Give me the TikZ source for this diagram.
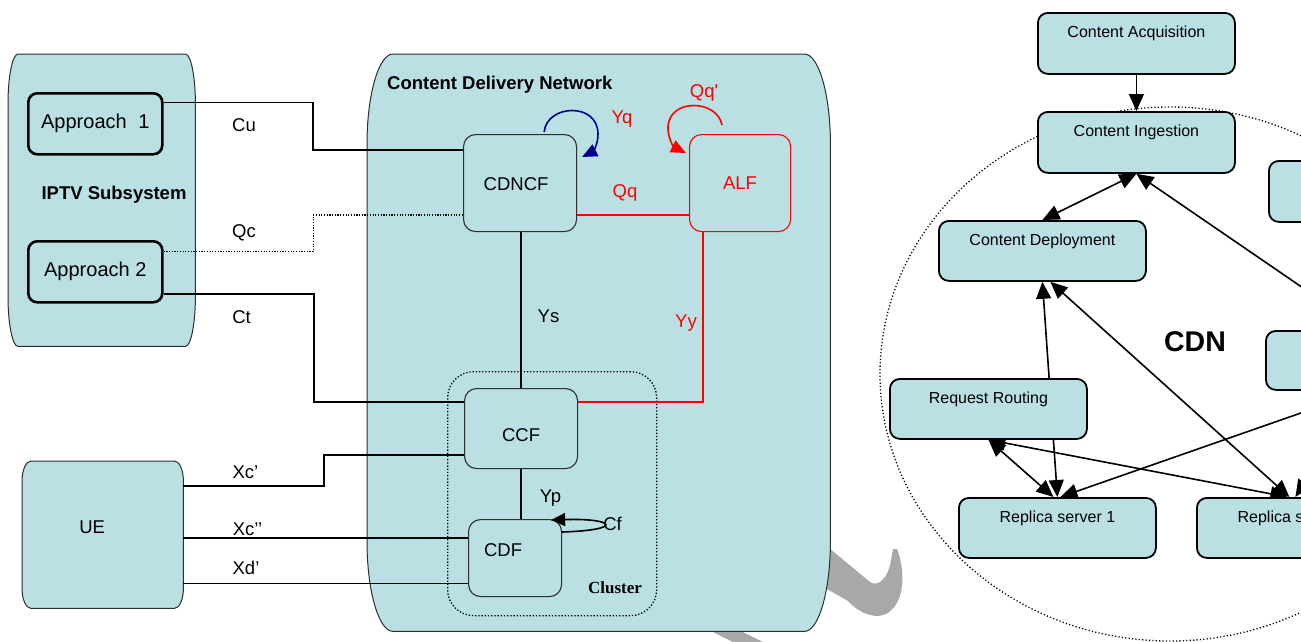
\documentclass[tikz,border=0pt]{standalone}
\usepackage{fontspec}
\setmainfont{Liberation Sans}
\newfontfamily\serifbold{Liberation Serif}
\usetikzlibrary{arrows.meta,calc,shapes.geometric}
\pgfdeclarelayer{watermark}
\pgfdeclarelayer{back}
\pgfsetlayers{watermark,back,main}

\definecolor{cyanfill}{RGB}{186,224,227}
\definecolor{edgegray}{RGB}{45,45,45}
\definecolor{markgray}{RGB}{168,168,168}
\definecolor{loopnavy}{RGB}{0,0,140}

\newcommand\lfont{\fontsize{18.5}{22}\selectfont}
\newcommand\afont{\fontsize{20}{24}\selectfont}
\newcommand\rfont{\fontsize{16}{19}\selectfont}

% container with soft elliptical corners, drawn round the frame of a node
\newcommand\canblock[3]{% node, x radius, y radius
  \path[draw=edgegray,fill=cyanfill,line width=1pt]
   ($(#1.north west)+(0,#3)$) .. controls ($(#1.north west)+(0,0.45*#3)$) and ($(#1.north west)+(0.45*#2,0)$) .. ($(#1.north west)+(#2,0)$)
   -- ($(#1.north east)+(-#2,0)$) .. controls ($(#1.north east)+(-0.45*#2,0)$) and ($(#1.north east)+(0,0.45*#3)$) .. ($(#1.north east)+(0,#3)$)
   -- ($(#1.south east)+(0,-#3)$) .. controls ($(#1.south east)+(0,-0.45*#3)$) and ($(#1.south east)+(-0.45*#2,0)$) .. ($(#1.south east)+(-#2,0)$)
   -- ($(#1.south west)+(#2,0)$) .. controls ($(#1.south west)+(0.45*#2,0)$) and ($(#1.south west)+(0,-0.45*#3)$) .. ($(#1.south west)+(0,-#3)$)
   -- cycle;}

\tikzset{
  frame/.style={inner sep=0pt, anchor=north west},
  fnbox/.style={draw=edgegray, fill=cyanfill, line width=1.1pt, rounded corners=12pt,
    inner sep=0pt, anchor=north west, font=\lfont},
  apbox/.style={draw=black, fill=cyanfill, line width=2.6pt, rounded corners=9pt,
    inner sep=0pt, anchor=north west, font=\afont, minimum width=134pt, minimum height=61pt},
  cdnbox/.style={draw=black, fill=cyanfill, line width=1.8pt, rounded corners=10pt,
    inner sep=0pt, anchor=north west, font=\rfont, minimum width=197pt,
    text height=24.5pt, text depth=35.5pt},
  iflabel/.style={font=\lfont, inner sep=0pt},
  wire/.style={line width=1.7pt},
  arrowwire/.style={line width=1.6pt},
  redwire/.style={line width=1.7pt, draw=red},
  dotwire/.style={line width=1.4pt, dash pattern=on 1.2pt off 1.5pt},
  hvh/.style={to path={-| ($(\tikztostart)!.5!(\tikztotarget)$) |- (\tikztotarget)}},
  onehead/.style={-{Triangle[length=17pt,width=15pt]}},
  twohead/.style={{Triangle[length=17pt,width=15pt]}-{Triangle[length=17pt,width=15pt]}},
}

\begin{document}
\begin{tikzpicture}[x=1pt,y=-1pt]
\useasboundingbox (0,0) rectangle (1301,641);

% ---------- containers ----------
\node[frame, minimum width=187pt, minimum height=292pt] (iptv) at (8,54) {};
\node[frame, minimum width=463pt, minimum height=577pt] (cdn) at (367,54) {};
\node[frame, minimum width=161pt, minimum height=147pt,
      label={[font=\lfont,xshift=-10.5pt,yshift=7.5pt]center:UE}] (ue) at (22,461) {};

\begin{pgfonlayer}{watermark}
  \fill[markgray] (810,540) -- (829,548) -- (870,582)
    .. controls (877,587) and (888,580) .. (891,560) -- (893,549) -- (897,549)
    .. controls (905,570) and (906,600) .. (888,613)
    .. controls (878,619) and (862,616) .. (848,601) -- (820,585) -- (800,570) -- cycle;
  \fill[markgray] (689,620) -- (719,620) -- (789,655) -- (759,655) -- cycle;
\end{pgfonlayer}

\begin{pgfonlayer}{back}
  \canblock{iptv}{10}{50}
  \canblock{cdn}{26}{90}
  \canblock{ue}{9}{20}
\end{pgfonlayer}

\node[font=\lfont\bfseries, inner sep=0pt] (iptvtitle) at (114,195) {IPTV Subsystem};
\node[font=\lfont\bfseries, inner sep=0pt, anchor=west] (cdntitle) at (387,85) {Content Delivery Network};

% ---------- cluster ----------
\node[frame, draw=black, line width=1.3pt, dash pattern=on 1.3pt off 1.9pt, rounded corners=26pt,
      minimum width=209pt, minimum height=244pt] (cluster) at (447,371) {};
\node[font=\serifbold\bfseries\fontsize{17}{20}\selectfont, inner sep=0pt] (clustername) at (615,588) {Cluster};

% ---------- functional entities ----------
\node[apbox] (ap1) at (27,92) {Approach\hspace{0.3em} 1};
\node[apbox] (ap2) at (27,240) {Approach 2};
\node[fnbox, minimum width=113pt, minimum height=97pt,
      label={[font=\lfont,xshift=-4pt,yshift=-1.5pt]center:CDNCF}] (cdncf) at (463,134) {};
\node[fnbox, draw=red, text=red, minimum width=101pt, minimum height=97pt] (alf) at (689,134) {ALF};
\node[fnbox, minimum width=113pt, minimum height=80pt,
      label={[font=\lfont,yshift=-7pt]center:CCF}] (ccf) at (464,388) {};
\node[fnbox, minimum width=93pt, minimum height=77pt,
      label={[font=\lfont,xshift=-12pt,yshift=7.5pt]center:CDF}] (cdf) at (468,519) {};

% ---------- attachment points ----------
\coordinate (cuA) at ($(ap1.north east)!0.164!(ap1.south east)$);
\coordinate (cuB) at ($(cdncf.north west)!0.165!(cdncf.south west)$);
\coordinate (qcA) at ($(ap2.north east)!0.183!(ap2.south east)$);
\coordinate (qcB) at ($(cdncf.north west)!0.825!(cdncf.south west)$);
\coordinate (ctA) at ($(ap2.north east)!0.85!(ap2.south east)$);
\coordinate (ctB) at ($(ccf.north west)!0.175!(ccf.south west)$);
\coordinate (xcA) at ($(ue.north east)!0.17!(ue.south east)$);
\coordinate (xcB) at ($(ccf.north west)!0.825!(ccf.south west)$);
\coordinate (xccA) at ($(ue.north east)!0.524!(ue.south east)$);
\coordinate (xdA) at ($(ue.north east)!0.83!(ue.south east)$);
\coordinate (qqA) at ($(cdncf.north east)!0.825!(cdncf.south east)$);
\coordinate (yyA) at ($(alf.south west)!0.139!(alf.south east)$);
\coordinate (yyB) at ($(ccf.north east)!0.175!(ccf.south east)$);

% ---------- reference points / interfaces ----------
\draw[wire] (cuA) to[hvh] (cuB);
\draw[dotwire] (qcA) to[hvh] (qcB);
\draw[wire] (ctA) to[hvh] (ctB);
\draw[wire] (xcA) to[hvh] (xcB);
\draw[wire] (xccA) -- (xccA -| cdf.west);
\draw[wire] (xdA) -- (xdA -| cdf.west);
\draw[wire] (cdncf.south -| ccf.north) -- (ccf.north);
\draw[wire] (ccf.south) -- (ccf.south |- cdf.north);
\draw[redwire] (qqA) -- (qqA -| alf.west);
\draw[redwire] (yyA) |- (yyB);

% self loops
\draw[loopnavy, line width=1.6pt, -{Triangle[length=15pt,width=13pt]}]
  ($(cdncf.north east)+(-33,-2)$) .. controls (547,104) and (598,102) .. (598,134)
  .. controls (598,146) and (592,152) .. ($(cdncf.north east)+(5,23)$);
\draw[red, line width=1.6pt, -{Triangle[length=15pt,width=13pt]}]
  ($(alf.north west)+(33,-9)$) .. controls (717,99) and (668,98) .. (668,128)
  .. controls (668,139) and (674,147) .. ($(alf.north west)+(-3,19)$);
\draw[line width=1.6pt, -{Triangle[length=14pt,width=13pt]}]
  ($(cdf.north east)+(0,13)$) .. controls (625,530) and (615,518) .. ($(cdf.north east)+(-11,1)$);

% interface names
\node[iflabel] (lcu) at (244,125) {Cu};
\node[iflabel] (lqc) at (244,233) {Qc};
\node[iflabel] (lct) at (241.5,317) {Ct};
\node[iflabel] (lxc1) at (245.5,472) {Xc’};
\node[iflabel] (lxc2) at (247.5,529) {Xc’’};
\node[iflabel] (lxd) at (246,568) {Xd’};
\node[iflabel] (lys) at (548.5,316) {Ys};
\node[iflabel, text=red] (lyy) at (686,323) {Yy};
\node[iflabel, text=red] (lqq) at (625,193) {Qq};
\node[iflabel, text=red] (lyq) at (622,119) {Yq};
\node[iflabel, text=red] (lqqp) at (704,93) {Qq\textquotesingle};
\node[iflabel] (lyp) at (550.5,498) {Yp};
\node[iflabel] (lcf) at (612.5,524) {Cf};

% ---------- CDN building blocks ----------
\node[ellipse, draw=black, line width=1.3pt, dash pattern=on 1.2pt off 2.2pt, inner sep=0pt,
      minimum width=580pt, minimum height=534pt] (cdnzone) at (1170,374) {};
\node[font=\bfseries\fontsize{28.5}{32}\selectfont, inner sep=0pt] (cdnname) at (1195,342) {CDN};

\node[cdnbox, text depth=36.5pt] (acq) at (1037,12) {Content Acquisition};
\node[cdnbox, text depth=36.5pt] (ing) at (1037,111) {Content Ingestion};
\node[cdnbox, minimum width=207pt] (dep) at (938,220) {Content Deployment};
\node[cdnbox] (rr) at (889,378) {Request Routing};
\node[cdnbox] (rs1) at (958,497) {Replica server 1};
\node[cdnbox] (rs2) at (1196,497) {Replica server 2};
\node[cdnbox, text depth=36.5pt] (boxa) at (1268,160) {};
\node[cdnbox, text depth=34.5pt] (boxb) at (1265,330) {};

\begin{pgfonlayer}{back}
  \draw[arrowwire, onehead] (acq.south) -- (ing.north);
  \draw[arrowwire, twohead] (dep.north) -- (ing.south);
  \draw[arrowwire, onehead] (boxb.north) -- (ing.south);
  \draw[arrowwire, twohead] (dep.south) -- (rs1.north);
  \draw[arrowwire, twohead] ($(dep.south)+(8,0)$) -- ($(rs2.north)+(-6,0)$);
  \draw[arrowwire, twohead] (rr.south) -- ($(rs1.north)+(-4,0)$);
  \draw[arrowwire, twohead] (rr.south) -- ($(rs2.north)+(-8,0)$);
  \draw[arrowwire, onehead] (boxb.south) -- ($(rs1.north)+(3,0)$);
  \draw[arrowwire, onehead] (boxb.south) -- (rs2.north);
\end{pgfonlayer}
\end{tikzpicture}
\end{document}
